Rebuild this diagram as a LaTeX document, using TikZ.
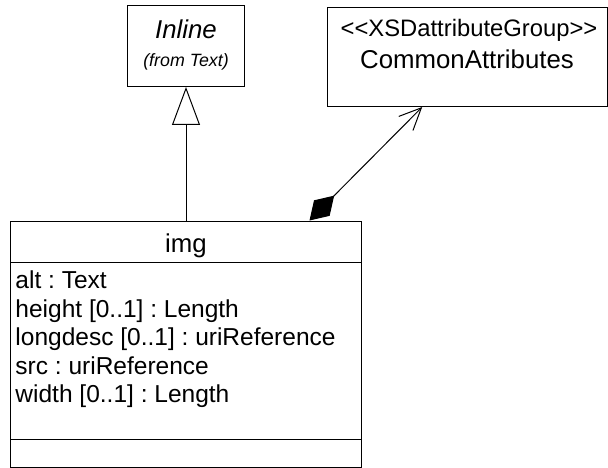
\documentclass[tikz,border=0pt]{standalone}
\usepackage{fontspec}
\setmainfont{Liberation Sans}
\usetikzlibrary{arrows.meta,calc}
\frenchspacing

\begin{document}
\begin{tikzpicture}[x=1pt,y=-1pt,
  line width=1pt,
  box/.style={draw=black, fill=white, inner sep=0pt, anchor=north west},
  label/.style={inner sep=0pt, anchor=base},
  attr/.style={inner sep=0pt, anchor=base west, font=\fontsize{24.5pt}{28.6pt}\selectfont},
  namefont/.style={font=\fontsize{25.8pt}{30pt}\selectfont},
  stereofont/.style={font=\fontsize{23.8pt}{28pt}\selectfont},
  fromfont/.style={font=\fontsize{17.8pt}{21pt}\selectfont\itshape},
  generalization/.style={-{Triangle[open,length=38pt,width=28pt]}},
  composition/.style={{Diamond[length=35pt,width=22pt]}-{Straight Barb[length=22pt,width=20pt]}}
]
\useasboundingbox (0,0) rectangle (608,468);

% superclass from another package
\node[box, minimum width=117pt, minimum height=81pt] (inline) at (127,5) {};
\node[label, font=\fontsize{25.8pt}{30pt}\selectfont\itshape] (inlinename) at (186,38.3) {Inline};
\node[label, fromfont] (inlinefrom) at (186,66.3) {(from Text)};

% attribute group
\node[box, minimum width=279.4pt, minimum height=99.3pt] (common) at (327.3,6.7) {};
\node[label, stereofont] (commonstereo) at (469,36.7) {<\kern0pt<XSDattributeGroup>\kern0pt>};
\node[label, namefont] (commonname) at (467,68.3) {CommonAttributes};

% img class
\node[box, minimum width=351pt, minimum height=246.5pt] (img) at (10,220.5) {};
\coordinate (sep1w) at (10,262);
\coordinate (sep1e) at (361,262);
\coordinate (sep2w) at (10,439.3);
\coordinate (sep2e) at (361,439.3);
\draw (sep1w) -- (sep1e);
\draw (sep2w) -- (sep2e);
\node[label, namefont] (imgname) at (186,252.7) {img};
\node[attr] (a1) at (15,288.3) {alt : Text};
\node[attr] (a2) at (15,317.0) {height [0..1] : Length};
\node[attr] (a3) at (15,345.6) {longdesc [0..1] : uriReference};
\node[attr] (a4) at (15,374.2) {src : uriReference};
\node[attr] (a5) at (15,402.8) {width [0..1] : Length};

% connectors
\draw[generalization] (img.north) -- (inline.south);
\coordinate (compstart) at ($(img.north)+(123.5,0)$);
\coordinate (compend) at ($(common.south)+(-45.3,0)$);
\draw[composition] (compstart) -- (compend);
\end{tikzpicture}
\end{document}
